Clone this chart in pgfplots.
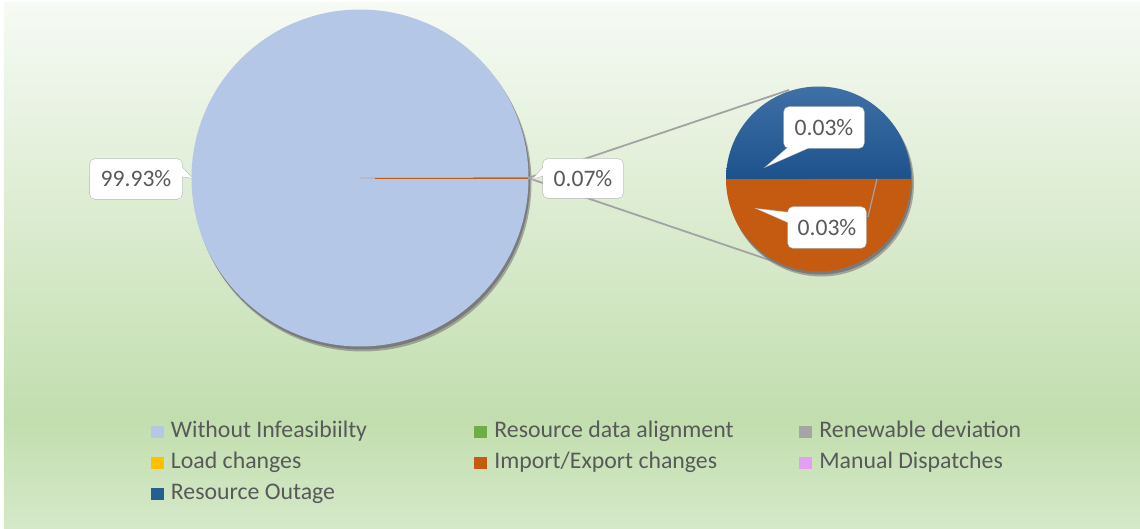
\documentclass[border=0pt]{standalone}
\usepackage{pgfplots}
\pgfplotsset{compat=1.18}
\usepackage{fontspec}
\setmainfont{Carlito}

\definecolor{txt}{HTML}{595959}
\definecolor{bgtop}{HTML}{F6FAF4}
\definecolor{bgmid}{HTML}{C2DEAE}
\definecolor{bgbot}{HTML}{D5E9C9}
\definecolor{cWithout}{HTML}{B4C7E7}
\definecolor{cAlign}{HTML}{70AD47}
\definecolor{cRenew}{HTML}{A5A5A5}
\definecolor{cLoad}{HTML}{FFC000}
\definecolor{cImport}{HTML}{C55A11}
\definecolor{cManual}{HTML}{E49EF7}
\definecolor{cOutage}{HTML}{255E91}
\definecolor{cOutTop}{HTML}{3F70A6}
\definecolor{cOutBot}{HTML}{1C528C}
\definecolor{shadowc}{HTML}{7A7A7A}
\definecolor{linec}{HTML}{A3A3A3}
\definecolor{boxc}{HTML}{BDBDBD}

% shares in percent
\def\vWithout{99.93}
\def\vOther{0.07}    % Import/Export + Resource Outage
\def\vImport{0.035}
\def\vOutage{0.035}

% callout: x1,y1,x2,y2 of the box, triangle path, text
\newcommand{\callout}[6]{%
  \draw[boxc, line width=0.6pt] #5 -- cycle;
  \draw[boxc, line width=0.6pt, rounded corners=2.5pt] (axis cs:#1,#2) rectangle (axis cs:#3,#4);
  \fill[white] #5 -- cycle;
  \fill[white, rounded corners=2.5pt] (axis cs:#1,#2) rectangle (axis cs:#3,#4);
  \node[text=txt, font=\fontsize{11.8}{13}\selectfont, inner sep=0pt]
    at (axis cs:{(#1+#3)/2},{(#2+#4)/2}) {#6};
}

\begin{document}
\begin{tikzpicture}
\pgfmathsetmacro\half{3.6*\vOther/2}
\pgfmathsetmacro\aOut{360*\vOutage/(\vOutage+\vImport)}
\begin{axis}[
    width=570pt, height=264.5pt, scale only axis,
    xmin=0, xmax=1140, ymin=0, ymax=529,
    y dir=reverse,
    hide axis, clip=false,
    legend columns=3,
    legend image code/.code={\fill[#1, draw=none] (0pt,-3pt) rectangle (6.5pt,3pt);},
    legend style={
        draw=none, fill=none, inner sep=0pt,
        at={(0.132,0.204)}, anchor=north west,
        font=\fontsize{11.9}{13}\selectfont, text=txt,
        row sep=5pt,
        nodes={inner sep=0pt, text height=8pt, text depth=2.5pt, anchor=west},
        /tikz/every odd column/.append style={column sep=3.5pt},
    },
]
% background
\fill[white] (axis cs:0,0) rectangle (axis cs:1140,529);
\shade[top color=bgtop, bottom color=bgmid] (axis cs:4,3) rectangle (axis cs:1140,420);
\shade[top color=bgmid, bottom color=bgbot] (axis cs:4,420) rectangle (axis cs:1140,529);

% main pie
\fill[shadowc, opacity=0.6] (axis cs:362.5,182.5) circle[radius=84.5pt];
\fill[shadowc] (axis cs:361.5,181) circle[radius=84.25pt];
\fill[cWithout] (axis cs:360,178) -- ++(\half:84.25pt)
   arc[start angle=\half, end angle={360-\half}, radius=84.25pt] -- cycle;
\fill[cImport] (axis cs:360,178) -- ++(-\half:84.25pt)
   arc[start angle=-\half, end angle=\half, radius=84.25pt] -- cycle;
\draw[cImport, line width=0.3pt] (axis cs:375,178) -- (axis cs:528,178);

% connector lines
\draw[linec, line width=0.9pt] (axis cs:528,178) -- (axis cs:789,90);
\draw[linec, line width=0.9pt] (axis cs:528,178) -- (axis cs:790,267);

% secondary pie
\fill[shadowc, opacity=0.6] (axis cs:821,183.5) circle[radius=46.5pt];
\fill[shadowc] (axis cs:820,182) circle[radius=46.25pt];
\shade[top color=cOutTop, bottom color=cOutBot] (axis cs:818.5,179) -- ++(0:46.25pt)
   arc[start angle=0, end angle=\aOut, radius=46.25pt] -- cycle;
\fill[cImport] (axis cs:818.5,179) -- ++(\aOut:46.25pt)
   arc[start angle=\aOut, end angle=360, radius=46.25pt] -- cycle;
\draw[linec, line width=0.6pt] (axis cs:877,179) -- (axis cs:868,217);

% data labels
\callout{90}{159}{182}{199}{(axis cs:178,163) -- (axis cs:192,178) -- (axis cs:178,176)}{99.93\%}
\callout{543}{159}{623}{198}{(axis cs:547,163) -- (axis cs:533,179) -- (axis cs:547,174)}{0.07\%}
\callout{784}{107}{864}{148}{(axis cs:792,144) -- (axis cs:767,166) -- (axis cs:817,144)}{0.03\%}
\callout{788}{207}{866}{248}{(axis cs:792,213) -- (axis cs:758,209) -- (axis cs:792,224)}{0.03\%}

% legend
\addlegendimage{fill=cWithout}
\addlegendentry{\makebox[151.75pt][l]{Without Infeasibiilty}}
\addlegendimage{fill=cAlign}
\addlegendentry{\makebox[152.5pt][l]{Resource data alignment}}
\addlegendimage{fill=cRenew}
\addlegendentry{Renewable deviation}
\addlegendimage{fill=cLoad}
\addlegendentry{Load changes}
\addlegendimage{fill=cImport}
\addlegendentry{Import/Export changes}
\addlegendimage{fill=cManual}
\addlegendentry{Manual Dispatches}
\addlegendimage{fill=cOutage}
\addlegendentry{Resource Outage}
\end{axis}
\end{tikzpicture}
\end{document}
